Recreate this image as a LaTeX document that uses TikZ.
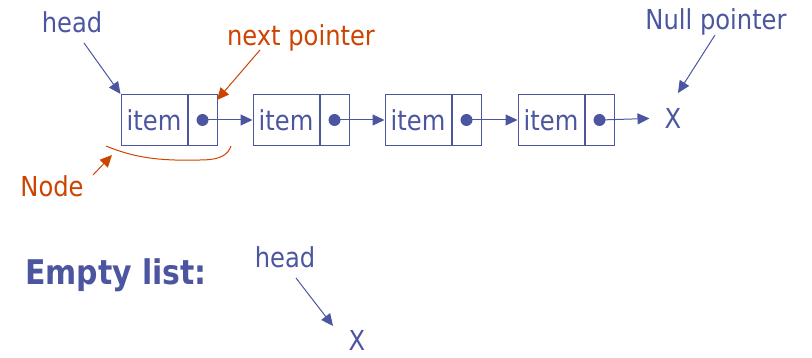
\documentclass[tikz,border=0pt]{standalone}
\usepackage{fontspec}
\setmainfont{DejaVu Sans}[FakeStretch=0.88]
\usetikzlibrary{arrows.meta}
\definecolor{listblue}{RGB}{76,86,160}
\definecolor{noteorange}{RGB}{204,68,0}
\newcommand{\bigtext}{\fontsize{27.5}{33}\selectfont}

\begin{document}
\begin{tikzpicture}[x=1pt,y=-1pt,
    cell/.style={draw=listblue,line width=1pt,minimum height=51pt,inner sep=0pt,text=listblue,font=\bigtext},
    itembox/.style={cell,minimum width=66pt},
    ptrbox/.style={cell,minimum width=29pt,anchor=west},
    dot/.style={circle,fill=listblue,minimum size=12pt,inner sep=0pt},
    lbl/.style={text=listblue,inner sep=0pt,font=\bigtext},
    note/.style={text=noteorange,inner sep=0pt,font=\bigtext}]
    \useasboundingbox (0,0) rectangle (812,358);

    % the list
    \node[itembox] (i1) at (154,120) {item};
    \node[ptrbox] (p1) at (i1.east) {};
    \node[itembox] (i2) at (286,120) {item};
    \node[ptrbox] (p2) at (i2.east) {};
    \node[itembox] (i3) at (418,120) {item};
    \node[ptrbox] (p3) at (i3.east) {};
    \node[itembox] (i4) at (551,120) {item};
    \node[ptrbox] (p4) at (i4.east) {};
    \node[dot] (d1) at (p1) {};
    \node[dot] (d2) at (p2) {};
    \node[dot] (d3) at (p3) {};
    \node[dot] (d4) at (p4) {};
    \node[lbl] (nil) at (673,118) {X};

    % labels
    \node[lbl] (head) at (72,22) {head};
    \node[note] (next) at (301,38) {next pointer};
    \node[lbl] (null) at (716,22) {Null pointer};
    \node[note] (nodelbl) at (52,186) {Node};
    \coordinate (headtail) at (84,43);
    \coordinate (nexttail) at (260,50);
    \coordinate (nulltail) at (715,35);
    \coordinate (nodetail) at (93,175);
    \coordinate (nexttip) at (217,100);
    \coordinate (nulltip) at (678,93);
    \coordinate (nodetip) at (112,155);

    \path[-{Triangle[length=12pt,width=11pt]},listblue,line width=1pt]
    (d1.center) edge (i2.west)
    (d2.center) edge (i3.west)
    (d3.center) edge (i4.west)
    (d4.center) edge [shorten >=15pt] (nil.west)
    (headtail) edge (i1.north west)
    (nulltail) edge (nulltip);
    \path[-{Triangle[length=12pt,width=11pt]},noteorange,line width=1pt]
    (nexttail) edge (nexttip)
    (nodetail) edge (nodetip);

    \draw[noteorange,line width=1pt] (106,146) .. controls (135,158) and (160,161) .. (200,160)
        .. controls (222,160) and (228,154) .. (231,146);

    % empty list
    \node[text=listblue,inner sep=0pt,font=\fontsize{34}{40}\selectfont\bfseries] (empty) at (116,275) {Empty list:};
    \node[lbl] (head2) at (285,257) {head};
    \node[lbl] (nil2) at (357,340) {X};
    \coordinate (head2tail) at (296,278);
    \coordinate (nil2tip) at (333,326);
    \path[-{Triangle[length=12pt,width=11pt]},listblue,line width=1pt]
    (head2tail) edge (nil2tip);
\end{tikzpicture}
\end{document}
